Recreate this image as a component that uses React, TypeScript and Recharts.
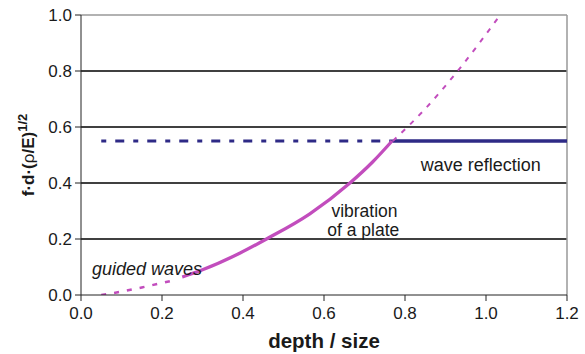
import {
  LineChart,
  Line,
  XAxis,
  YAxis,
  ReferenceLine,
  ReferenceDot,
} from "recharts";

const xTicks = [0, 0.2, 0.4, 0.6, 0.8, 1.0, 1.2];
const yTicks = [0, 0.2, 0.4, 0.6, 0.8, 1.0];

// lower dashed part of the plate curve (guided waves)
const guidedX = [0.05, 0.1, 0.15, 0.2, 0.23];
const guidedY = [0, 0.012, 0.027, 0.043, 0.053];

// solid plate vibration curve
const plateX = [0.25, 0.3, 0.393, 0.458, 0.565, 0.664, 0.72, 0.768];
const plateY = [0.064, 0.09, 0.15, 0.2, 0.29, 0.4, 0.475, 0.55];

// thin dashed continuation
const upperX = [0.77, 0.85, 0.93, 1.03];
const upperY = [0.55, 0.665, 0.8, 0.99];

// reflection level
const reflDashX = [0.05, 0.77];
const reflSolidX = [0.77, 1.2];
const reflLevel = 0.55;

const zip = (xs: number[], ys: number[]) => xs.map((x, i) => ({ x, y: ys[i] }));

const MAGENTA = "#c24dbd";
const NAVY = "#2e2a86";
const FONT = "'Liberation Sans', Arial, sans-serif";

const YLabel = () => (
  <text
    transform="translate(34,155) rotate(-90)"
    textAnchor="middle"
    fontFamily={FONT}
    fontSize={17}
    fontWeight="bold"
    fill="#1a1a1a"
  >
    f·d·(<tspan fontWeight="normal">ρ</tspan>/E)
    <tspan dy={-7} fontSize={13}>1/2</tspan>
  </text>
);

const note = (value: string, italic = false, size = 18) => ({
  value,
  position: "center" as const,
  fill: "#1a1a1a",
  fontSize: size,
  fontFamily: FONT,
  fontStyle: italic ? "italic" : "normal",
});

export default function App() {
  return (
    <div style={{ position: "absolute", left: 0, top: 0 }}>
      <LineChart
        width={585}
        height={354}
        margin={{ top: 15, right: 18, bottom: 0, left: 0 }}
      >
        <XAxis
          type="number"
          dataKey="x"
          domain={[0, 1.2]}
          ticks={xTicks}
          tickFormatter={(v: number) => v.toFixed(1)}
          allowDataOverflow
          stroke="#222"
          tickSize={6}
          tickMargin={6}
          tick={{ fill: "#1a1a1a", fontSize: 17, fontFamily: FONT }}
          height={59}
          label={{
            value: "depth / size",
            position: "insideBottom",
            offset: 6,
            fill: "#1a1a1a",
            fontSize: 20.5,
            fontWeight: "bold",
            fontFamily: FONT,
          }}
        />
        <YAxis
          type="number"
          dataKey="y"
          domain={[0, 1]}
          ticks={yTicks}
          tickFormatter={(v: number) => v.toFixed(1)}
          allowDataOverflow
          stroke="#222"
          tickSize={6}
          tickMargin={3}
          width={81}
          tick={{ fill: "#1a1a1a", fontSize: 17, fontFamily: FONT }}
          label={{ content: () => <YLabel /> }}
        />
        {yTicks.slice(1, 5).map((t) => (
          <ReferenceLine key={t} y={t} stroke="#000" strokeWidth={1.3} />
        ))}
        <ReferenceLine y={1} stroke="#999" strokeWidth={1.5} />
        <ReferenceLine x={1.2} stroke="#999" strokeWidth={1.5} />

        <Line
          data={reflDashX.map((x) => ({ x, y: reflLevel }))}
          dataKey="y"
          stroke={NAVY}
          strokeWidth={3.2}
          strokeDasharray="5 9 9 9"
          dot={false}
          isAnimationActive={false}
        />
        <Line
          data={reflSolidX.map((x) => ({ x, y: reflLevel }))}
          dataKey="y"
          stroke={NAVY}
          strokeWidth={3.5}
          dot={false}
          isAnimationActive={false}
        />
        <Line
          data={zip(guidedX, guidedY)}
          dataKey="y"
          type="monotone"
          stroke={MAGENTA}
          strokeWidth={2.5}
          strokeDasharray="5 8"
          dot={false}
          isAnimationActive={false}
        />
        <Line
          data={zip(plateX, plateY)}
          dataKey="y"
          type="monotone"
          stroke={MAGENTA}
          strokeWidth={3.3}
          dot={false}
          isAnimationActive={false}
        />
        <Line
          data={zip(upperX, upperY)}
          dataKey="y"
          type="monotone"
          stroke={MAGENTA}
          strokeWidth={2}
          strokeDasharray="5 7"
          dot={false}
          isAnimationActive={false}
        />

        <ReferenceDot x={0.163} y={0.096} r={0} stroke="none" label={note("guided waves", true)} />
        <ReferenceDot x={0.7} y={0.302} r={0} stroke="none" label={note("vibration", false, 17.5)} />
        <ReferenceDot x={0.697} y={0.234} r={0} stroke="none" label={note("of a plate", false, 17.5)} />
        <ReferenceDot x={0.987} y={0.464} r={0} stroke="none" label={note("wave reflection")} />
      </LineChart>
    </div>
  );
}
